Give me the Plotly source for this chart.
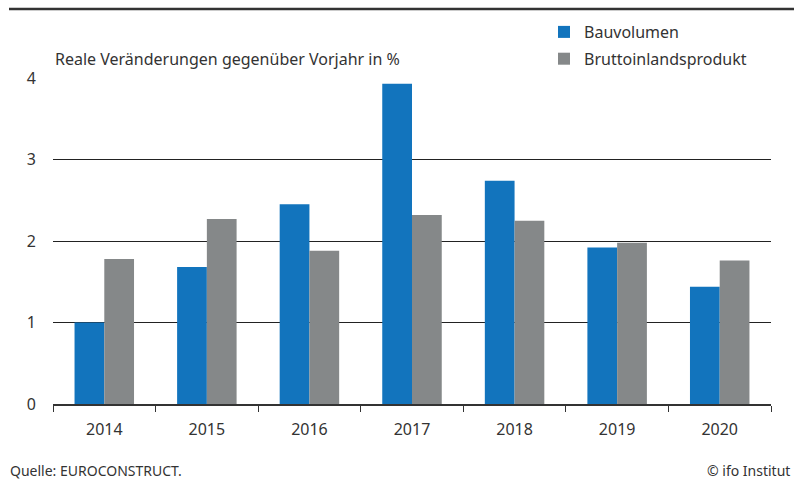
import plotly.graph_objects as go

years = ["2014", "2015", "2016", "2017", "2018", "2019", "2020"]
bauvolumen = [1.0, 1.68, 2.45, 3.93, 2.74, 1.92, 1.44]
bip = [1.78, 2.27, 1.88, 2.32, 2.25, 1.98, 1.76]
y_ticks = [0, 1, 2, 3, 4]

W, H = 794, 479
L, R, T, B = 53, 23, 78, 75
pw, ph = W - L - R, H - T - B

def px_x(x):
    return (x - L) / pw

def px_y(y):
    return (H - B - y) / ph

FONT = "Source Sans Pro, Noto Sans, sans-serif"
TXT = "#333333"

fig = go.Figure()
fig.add_trace(go.Bar(x=years, y=bauvolumen, name="Bauvolumen", marker_color="#1274bd",
                     marker_line_width=0, legendgroup="a"))
fig.add_trace(go.Bar(x=years, y=bip, name="Bruttoinlandsprodukt", marker_color="#858889",
                     marker_line_width=0, legendgroup="b"))

fig.update_layout(
    width=W, height=H,
    margin=dict(l=L, r=R, t=T, b=B, autoexpand=False),
    paper_bgcolor="white", plot_bgcolor="white",
    barmode="group", bargap=0.42, bargroupgap=0,
    font=dict(family=FONT, size=16, color=TXT),
    showlegend=True,
    legend=dict(x=px_x(544), y=px_y(15), xanchor="left", yanchor="top",
                font=dict(size=16, color=TXT), itemwidth=30, tracegroupgap=3,
                bgcolor="rgba(0,0,0,0)"),
    xaxis=dict(type="category", tickson="boundaries", ticks="outside", ticklen=6,
               tickcolor="#333333", showgrid=False, showline=True, linecolor="#333333",
               linewidth=1.5, tickfont=dict(size=16, color=TXT), ticklabelstandoff=10),
    yaxis=dict(range=[0, 4.001], tickvals=y_ticks, showgrid=True, gridcolor="#222222",
               gridwidth=1, zeroline=False, showline=False, ticks="",
               tickfont=dict(size=16, color=TXT), ticklabelstandoff=16),
    shapes=[dict(type="line", xref="paper", yref="paper", x0=px_x(9), x1=px_x(794),
                 y0=px_y(9), y1=px_y(9), line=dict(color="#333333", width=2.5))],
    annotations=[
        dict(text="Reale Veränderungen gegenüber Vorjahr in %", xref="paper", yref="paper",
             x=0, y=px_y(59), xanchor="left", yanchor="middle", showarrow=False,
             font=dict(size=16, color=TXT)),
        dict(text="Quelle: EUROCONSTRUCT.", xref="paper", yref="paper",
             x=px_x(8), y=px_y(470), xanchor="left", yanchor="middle", showarrow=False,
             font=dict(size=14, color=TXT)),
        dict(text="© ifo Institut", xref="paper", yref="paper",
             x=px_x(792), y=px_y(470), xanchor="right", yanchor="middle", showarrow=False,
             font=dict(size=14, color=TXT)),
    ],
)

fig.write_html("out.html", config={"displayModeBar": False},
               post_script="document.body.style.margin='0';document.body.style.overflow='hidden';")
